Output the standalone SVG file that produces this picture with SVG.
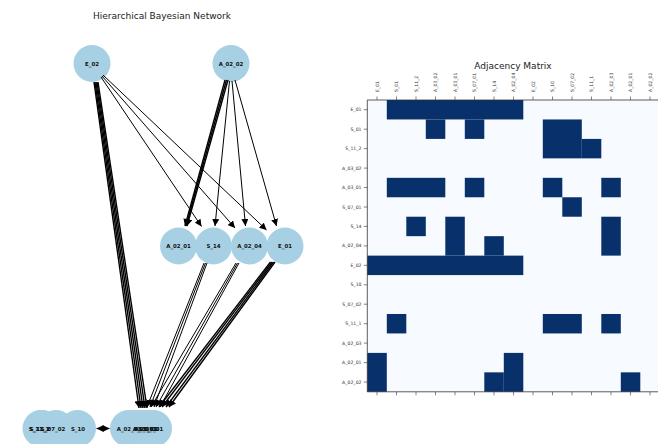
<svg xmlns="http://www.w3.org/2000/svg" width="658" height="444" viewBox="0 0 658 444">
<defs>
<marker id="ah" viewBox="0 0 10 10" refX="10" refY="5" markerWidth="7" markerHeight="7" markerUnits="userSpaceOnUse" orient="auto-start-reverse">
<path d="M0,0 L10,5 L0,10 z" fill="#000"/>
</marker>
<style>
.title{font-family:"DejaVu Sans",sans-serif;font-size:9px;fill:#222}
.node circle{fill:#a7d0e4}
.lbl{font-family:"DejaVu Sans",sans-serif;font-size:5.4px;font-weight:bold;fill:#111;text-anchor:middle;dominant-baseline:central}
.e{stroke:#000;stroke-width:1;fill:none;marker-end:url(#ah)}
.eb{stroke:#000;stroke-width:1.4;fill:none;marker-end:url(#ah)}
.rl{font-family:"DejaVu Sans",sans-serif;font-size:4.6px;fill:#333;text-anchor:end;dominant-baseline:central}
.cl{font-family:"DejaVu Sans",sans-serif;font-size:4.6px;fill:#333;text-anchor:start;dominant-baseline:central}
.tk{stroke:#333;stroke-width:0.6}
.dk{fill:#08306b}
</style>
</defs>
<rect width="658" height="444" fill="#fff"/>

<text class="title" x="162" y="19" text-anchor="middle">Hierarchical Bayesian Network</text>

<g id="nodes">
<g id="n_E_02" class="node"><circle cx="92" cy="63.5" r="18.5"/></g>
<g id="n_A_02_02" class="node"><circle cx="231" cy="63.5" r="18.5"/></g>
<g id="n_A_02_01" class="node"><circle cx="178.5" cy="246" r="18.5"/></g>
<g id="n_S_14" class="node"><circle cx="213.5" cy="246" r="18.5"/></g>
<g id="n_A_02_04" class="node"><circle cx="249.5" cy="246" r="18.5"/></g>
<g id="n_E_01" class="node"><circle cx="285" cy="246" r="18.5"/></g>
<g id="n_S_11_1" class="node"><circle cx="41" cy="428.5" r="18.5"/></g>
<g id="n_S_11_2" class="node"><circle cx="42" cy="428.5" r="18.5"/></g>
<g id="n_S_07_02" class="node"><circle cx="56" cy="428.5" r="18.5"/></g>
<g id="n_S_10" class="node"><circle cx="77.5" cy="428.5" r="18.5"/></g>
<g id="n_A_02_03" class="node"><circle cx="128.5" cy="428.5" r="18.5"/></g>
<g id="n_A_03_01" class="node"><circle cx="135" cy="428.5" r="18.5"/></g>
<g id="n_A_03_02" class="node"><circle cx="141" cy="428.5" r="18.5"/></g>
<g id="n_S_01" class="node"><circle cx="147" cy="428.5" r="18.5"/></g>
<g id="n_S_07_01" class="node"><circle cx="153.5" cy="428.5" r="18.5"/></g>
</g>

<g id="node-labels">
<text id="t_E_02" class="lbl" x="92" y="63.5">E_02</text>
<text id="t_A_02_02" class="lbl" x="231" y="63.5">A_02_02</text>
<text id="t_A_02_01" class="lbl" x="178.5" y="246">A_02_01</text>
<text id="t_S_14" class="lbl" x="213.5" y="246">S_14</text>
<text id="t_A_02_04" class="lbl" x="249.5" y="246">A_02_04</text>
<text id="t_E_01" class="lbl" x="285" y="246">E_01</text>
<text id="t_S_11_1" class="lbl" x="39" y="428.5">S_11_1</text>
<text id="t_S_11_2" class="lbl" x="40" y="428.5">S_11_2</text>
<text id="t_S_07_02" class="lbl" x="53" y="428.5">S_07_02</text>
<text id="t_S_10" class="lbl" x="78" y="428.5">S_10</text>
<text id="t_A_02_03" class="lbl" x="129" y="428.5">A_02_03</text>
<text id="t_A_03_01" class="lbl" x="145" y="428.5">A_03_01</text>
<text id="t_A_03_02" class="lbl" x="147" y="428.5">A_03_02</text>
<text id="t_S_01" class="lbl" x="150" y="428.5">S_01</text>
<text id="t_S_07_01" class="lbl" x="151" y="428.5">S_07_01</text>
</g>

<g id="connectors">
<line class="e" x1="101" y1="77" x2="201.5" y2="226.5"/>
<line class="e" x1="102" y1="76" x2="235" y2="228"/>
<line class="e" x1="103" y1="75" x2="266.5" y2="230"/>
<line class="eb" x1="94" y1="82" x2="139" y2="408"/>
<line class="eb" x1="95" y1="82" x2="141" y2="408"/>
<line class="eb" x1="96" y1="82" x2="143" y2="408"/>
<line class="eb" x1="97" y1="82" x2="145" y2="408"/>
<line class="eb" x1="98" y1="82" x2="147" y2="408"/>
<line class="eb" x1="225" y1="80" x2="185" y2="226"/>
<line class="eb" x1="226.5" y1="80" x2="186" y2="226"/>
<line class="eb" x1="228" y1="80" x2="187" y2="226"/>
<line class="e" x1="229.5" y1="81" x2="215" y2="226"/>
<line class="e" x1="232" y1="81" x2="245.5" y2="226"/>
<line class="e" x1="235" y1="80" x2="276.5" y2="226"/>
<line class="e" x1="204" y1="263" x2="147" y2="407"/>
<line class="e" x1="205.5" y1="263" x2="150" y2="407"/>
<line class="e" x1="207" y1="263" x2="154" y2="407"/>
<line class="e" x1="236" y1="263" x2="151" y2="407"/>
<line class="e" x1="237.5" y1="263" x2="156" y2="407"/>
<line class="e" x1="239" y1="263" x2="160" y2="407"/>
<line class="eb" x1="270.5" y1="262" x2="159" y2="407"/>
<line class="eb" x1="272" y1="262" x2="162" y2="407"/>
<line class="eb" x1="273.5" y1="262" x2="166" y2="407"/>
<line class="eb" x1="275" y1="262" x2="169" y2="407"/>
<line x1="96.5" y1="428.5" x2="109.5" y2="428.5" stroke="#000" stroke-width="1.2" marker-start="url(#ah)" marker-end="url(#ah)"/>
</g>

<g id="matrix">
<text class="title" x="513" y="68.5" text-anchor="middle">Adjacency Matrix</text>
<rect x="367.3" y="100" width="292.5" height="291.8" fill="#f7fbff"/>
<g transform="translate(367.3,100) scale(19.5,19.453)">
<rect class="dk" x="1" y="0" width="7" height="1"/>
<rect class="dk" x="3" y="1" width="1" height="1"/>
<rect class="dk" x="5" y="1" width="1" height="1"/>
<rect class="dk" x="9" y="1" width="2" height="2"/>
<rect class="dk" x="11" y="2" width="1" height="1"/>
<rect class="dk" x="1" y="4" width="3" height="1"/>
<rect class="dk" x="5" y="4" width="1" height="1"/>
<rect class="dk" x="9" y="4" width="1" height="1"/>
<rect class="dk" x="12" y="4" width="1" height="1"/>
<rect class="dk" x="10" y="5" width="1" height="1"/>
<rect class="dk" x="2" y="6" width="1" height="1"/>
<rect class="dk" x="4" y="6" width="1" height="2"/>
<rect class="dk" x="12" y="6" width="1" height="2"/>
<rect class="dk" x="6" y="7" width="1" height="1"/>
<rect class="dk" x="0" y="8" width="8" height="1"/>
<rect class="dk" x="1" y="11" width="1" height="1"/>
<rect class="dk" x="9" y="11" width="2" height="1"/>
<rect class="dk" x="12" y="11" width="1" height="1"/>
<rect class="dk" x="0" y="13" width="1" height="2"/>
<rect class="dk" x="7" y="13" width="1" height="2"/>
<rect class="dk" x="6" y="14" width="1" height="1"/>
<rect class="dk" x="13" y="14" width="1" height="1"/>
</g>
<path d="M367.3,391.8 V100 H660 M367.3,391.8 H660" stroke="#333" stroke-width="0.8" fill="none"/>
<path class="tk" d="M377,96.5v3.5M396.5,96.5v3.5M416,96.5v3.5M435.5,96.5v3.5M455,96.5v3.5M474.5,96.5v3.5M494,96.5v3.5M513.5,96.5v3.5M533,96.5v3.5M552.5,96.5v3.5M572,96.5v3.5M591.5,96.5v3.5M611,96.5v3.5M630.5,96.5v3.5M650,96.5v3.5"/>
<path class="tk" d="M377,391.8v3.5M396.5,391.8v3.5M416,391.8v3.5M435.5,391.8v3.5M455,391.8v3.5M474.5,391.8v3.5M494,391.8v3.5M513.5,391.8v3.5M533,391.8v3.5M552.5,391.8v3.5M572,391.8v3.5M591.5,391.8v3.5M611,391.8v3.5M630.5,391.8v3.5M650,391.8v3.5"/>
<path class="tk" d="M363.8,109.7h3.5M363.8,129.2h3.5M363.8,148.6h3.5M363.8,168.1h3.5M363.8,187.5h3.5M363.8,207h3.5M363.8,226.4h3.5M363.8,245.9h3.5M363.8,265.3h3.5M363.8,284.8h3.5M363.8,304.2h3.5M363.8,323.7h3.5M363.8,343.1h3.5M363.8,362.6h3.5M363.8,382h3.5"/>
<g>
<text class="rl" x="361.5" y="109.7">E_01</text>
<text class="rl" x="361.5" y="129.2">S_01</text>
<text class="rl" x="361.5" y="148.6">S_11_2</text>
<text class="rl" x="361.5" y="168.1">A_03_02</text>
<text class="rl" x="361.5" y="187.5">A_03_01</text>
<text class="rl" x="361.5" y="207">S_07_01</text>
<text class="rl" x="361.5" y="226.4">S_14</text>
<text class="rl" x="361.5" y="245.9">A_02_04</text>
<text class="rl" x="361.5" y="265.3">E_02</text>
<text class="rl" x="361.5" y="284.8">S_10</text>
<text class="rl" x="361.5" y="304.2">S_07_02</text>
<text class="rl" x="361.5" y="323.7">S_11_1</text>
<text class="rl" x="361.5" y="343.1">A_02_03</text>
<text class="rl" x="361.5" y="362.6">A_02_01</text>
<text class="rl" x="361.5" y="382">A_02_02</text>
</g>
<g>
<text class="cl" transform="translate(377,92) rotate(-90)">E_01</text>
<text class="cl" transform="translate(396.5,92) rotate(-90)">S_01</text>
<text class="cl" transform="translate(416,92) rotate(-90)">S_11_2</text>
<text class="cl" transform="translate(435.5,92) rotate(-90)">A_03_02</text>
<text class="cl" transform="translate(455,92) rotate(-90)">A_03_01</text>
<text class="cl" transform="translate(474.5,92) rotate(-90)">S_07_01</text>
<text class="cl" transform="translate(494,92) rotate(-90)">S_14</text>
<text class="cl" transform="translate(513.5,92) rotate(-90)">A_02_04</text>
<text class="cl" transform="translate(533,92) rotate(-90)">E_02</text>
<text class="cl" transform="translate(552.5,92) rotate(-90)">S_10</text>
<text class="cl" transform="translate(572,92) rotate(-90)">S_07_02</text>
<text class="cl" transform="translate(591.5,92) rotate(-90)">S_11_1</text>
<text class="cl" transform="translate(611,92) rotate(-90)">A_02_03</text>
<text class="cl" transform="translate(630.5,92) rotate(-90)">A_02_01</text>
<text class="cl" transform="translate(650,92) rotate(-90)">A_02_02</text>
</g>
</g>
</svg>
